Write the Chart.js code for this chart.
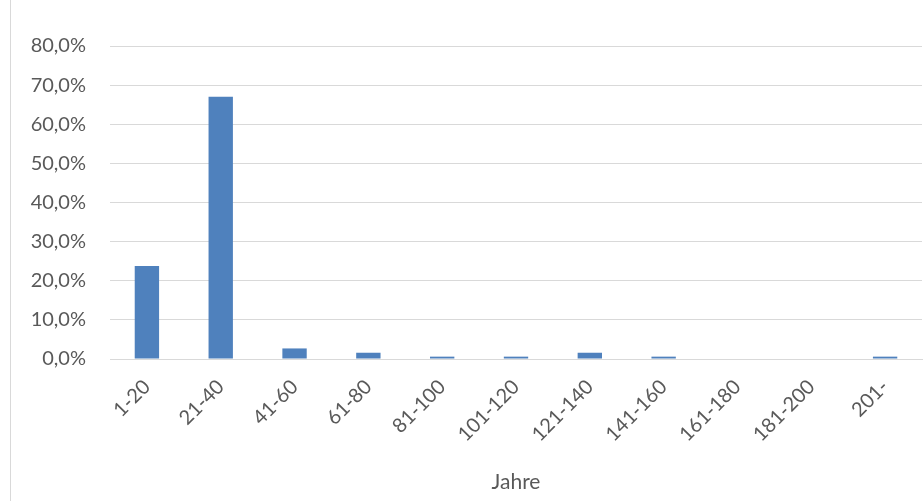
<!DOCTYPE html>
<html>
<head>
<meta charset="utf-8">
<script src="https://cdn.jsdelivr.net/npm/chart.js@4/dist/chart.umd.min.js"></script>
<style>
  html, body { margin: 0; padding: 0; background: #fff; }
  #wrap { position: relative; width: 924px; height: 501px; }
  #frame { position: absolute; left: 10px; top: 0; width: 0; height: 501px; border-left: 1px solid #d9d9d9; }
</style>
</head>
<body>
<div id="wrap">
  <div id="frame"></div>
  <canvas id="alterChart" width="924" height="501"></canvas>
</div>
<script>
// Altersklassen (Jahre) und Anteil in Prozent
var klassen = ["1-20", "21-40", "41-60", "61-80", "81-100", "101-120", "121-140", "141-160", "161-180", "181-200", "201-"];
var anteile = [23.8, 67.0, 2.7, 1.6, 0.6, 0.6, 1.6, 0.6, 0, 0, 0.6];
var yTicks = [0, 10, 20, 30, 40, 50, 60, 70, 80];

var schrift = "Lato, 'Open Sans', sans-serif";
var grau = "#595959";

var ctx = document.getElementById("alterChart").getContext("2d");

var myBarChart = new Chart(ctx, {
  type: 'bar',
  data: {
    labels: klassen,
    datasets: [{
      data: anteile,
      backgroundColor: "#4f81bd",
      borderWidth: 0,
      barPercentage: 0.33,
      categoryPercentage: 1
    }]
  },
  options: {
    responsive: false,
    animation: false,
    layout: {
      padding: { top: 46, right: 2, bottom: 0, left: 0 }
    },
    plugins: {
      legend: { display: false },
      tooltip: { enabled: false }
    },
    scales: {
      x: {
        grid: { display: false, drawTicks: false },
        border: { display: true, color: "#d9d9d9", width: 1 },
        ticks: {
          color: grau,
          font: { family: schrift, size: 20 },
          minRotation: 45,
          maxRotation: 45,
          padding: 16
        },
        title: {
          display: true,
          text: "Jahre",
          color: grau,
          font: { family: schrift, size: 21 },
          padding: { top: 0, bottom: 6 }
        },
        afterFit: function(scale) { scale.height = 142; }
      },
      y: {
        min: 0,
        max: 80,
        afterBuildTicks: function(scale) {
          scale.ticks = yTicks.map(function(v) { return { value: v }; });
        },
        grid: { color: "#d9d9d9", lineWidth: 1, drawTicks: false },
        border: { display: false },
        ticks: {
          color: grau,
          font: { family: schrift, size: 20 },
          padding: 24,
          callback: function(v) { return v.toFixed(1).replace('.', ',') + '%'; }
        },
        afterFit: function(scale) { scale.width = 110; }
      }
    }
  }
});
</script>
</body>
</html>
